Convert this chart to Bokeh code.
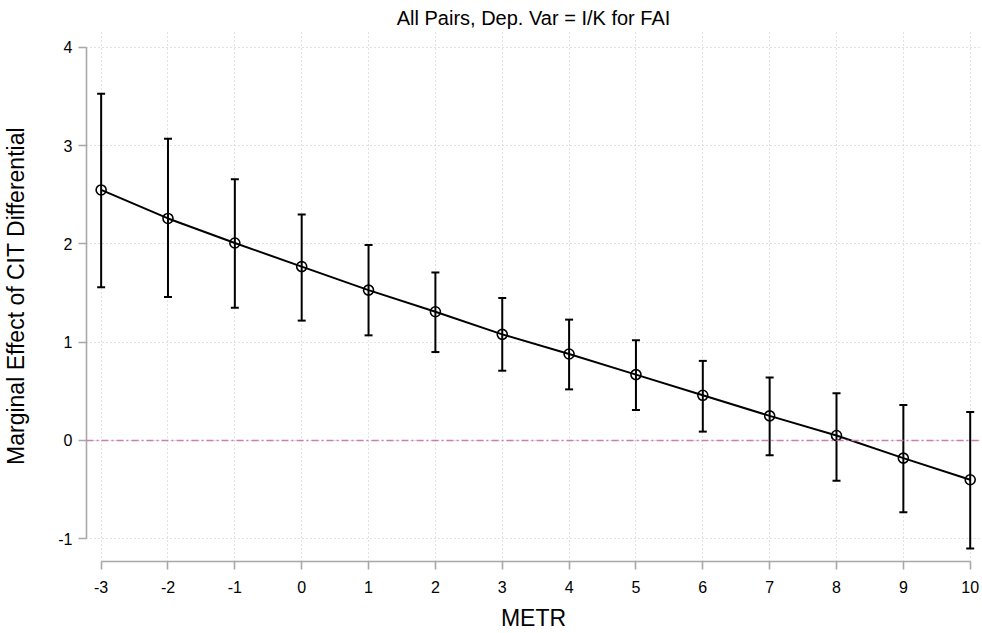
from bokeh.plotting import figure
from bokeh.models import Range1d, Whisker, TeeHead, ColumnDataSource, Span, FixedTicker
from bokeh.embed import file_html
from bokeh.resources import INLINE

metr = [-3, -2, -1, 0, 1, 2, 3, 4, 5, 6, 7, 8, 9, 10]
effect = [2.55, 2.26, 2.01, 1.77, 1.53, 1.31, 1.08, 0.88, 0.67, 0.46, 0.25, 0.05, -0.18, -0.40]
upper = [3.53, 3.07, 2.66, 2.30, 1.99, 1.71, 1.45, 1.23, 1.02, 0.81, 0.64, 0.48, 0.36, 0.29]
lower = [1.56, 1.46, 1.35, 1.22, 1.07, 0.90, 0.71, 0.52, 0.31, 0.09, -0.15, -0.41, -0.73, -1.10]
y_ticks = [-1, 0, 1, 2, 3, 4]
x_ticks = metr

FONT = "Liberation Sans"

src = ColumnDataSource(dict(x=metr, y=effect, up=upper, lo=lower))

p = figure(width=982, height=633, output_backend="svg", toolbar_location=None,
           x_range=Range1d(-3.219, 10.154), y_range=Range1d(-1.232, 4.173),
           min_border_left=83, min_border_right=2, min_border_top=30, min_border_bottom=72)
p.outline_line_color = None
p.background_fill_color = "white"
p.border_fill_color = "white"

p.title.text = "All Pairs, Dep. Var = I/K for FAI"
p.title.align = "center"
p.title.text_font = FONT
p.title.text_font_size = "20px"
p.title.text_font_style = "normal"
p.title.text_color = "black"
p.title.standoff = 3
p.title.text_line_height = 1.0

# grids
p.xgrid.ticker = FixedTicker(ticks=x_ticks)
p.ygrid.ticker = FixedTicker(ticks=y_ticks)
for g in (p.xgrid, p.ygrid):
    g.grid_line_color = "#c4c4c4"
    g.grid_line_dash = "1 3"
    g.grid_line_width = 1

# axes
p.xaxis.ticker = FixedTicker(ticks=x_ticks)
p.yaxis.ticker = FixedTicker(ticks=y_ticks)
p.xaxis.major_label_overrides = {t: str(t) for t in x_ticks}
p.yaxis.major_label_overrides = {t: str(t) for t in y_ticks}
p.xaxis.bounds = (-3, 10)
p.yaxis.bounds = (-1, 4)
p.xaxis.axis_label = "METR"
p.yaxis.axis_label = "Marginal Effect of CIT Differential"
for ax in (p.xaxis, p.yaxis):
    ax.axis_line_color = "#a8a8a8"
    ax.axis_line_width = 1.6
    ax.major_tick_line_color = "#a8a8a8"
    ax.major_tick_line_width = 1.6
    ax.major_tick_out = 8
    ax.major_tick_in = 0
    ax.minor_tick_line_color = None
    ax.major_label_text_font = FONT
    ax.major_label_text_font_size = "16px"
    ax.major_label_text_color = "black"
    ax.axis_label_text_font = FONT
    ax.axis_label_text_font_size = "23px"
    ax.axis_label_text_font_style = "normal"
    ax.axis_label_text_color = "black"
p.xaxis.major_label_standoff = 11
p.yaxis.major_label_standoff = 6
p.yaxis.major_label_orientation = "horizontal"
p.xaxis.axis_label_standoff = 9
p.yaxis.axis_label_standoff = 26

# zero reference line
p.add_layout(Span(location=0, dimension="width", line_color="#c97fac",
                  line_width=1.6, line_dash="7 3 2 3"))

# error bars
w = Whisker(source=src, base="x", upper="up", lower="lo", dimension="height",
            line_color="black", line_width=2,
            upper_head=TeeHead(size=8, line_color="black", line_width=2),
            lower_head=TeeHead(size=8, line_color="black", line_width=2))
p.add_layout(w)

p.line("x", "y", source=src, line_color="black", line_width=2)
p.scatter("x", "y", source=src, marker="circle", size=10, fill_alpha=0,
          line_color="black", line_width=1.6)

open("out.html", "w").write(file_html(p, INLINE))
